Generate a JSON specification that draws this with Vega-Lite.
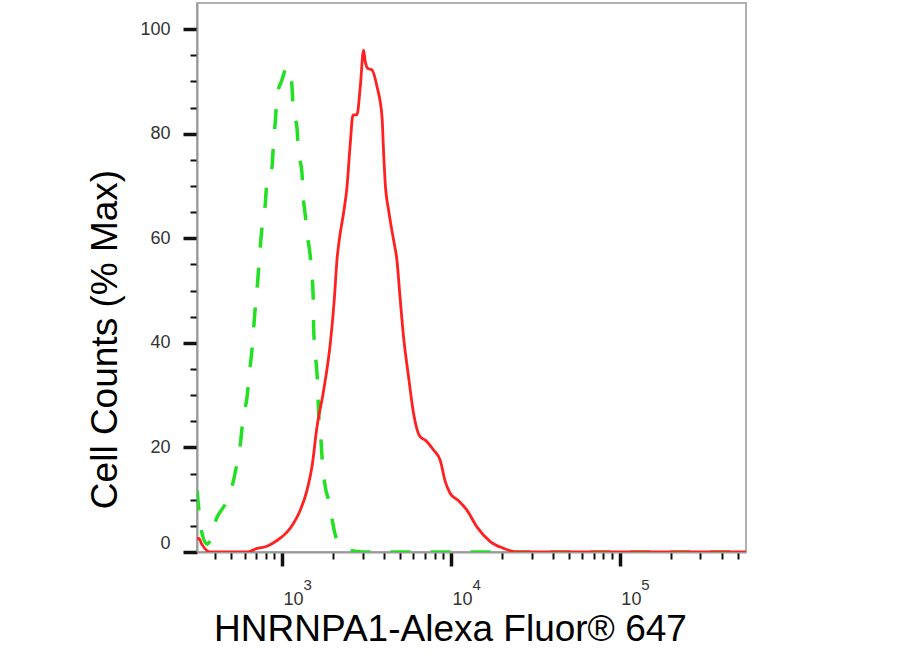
{
  "$schema": "https://vega.github.io/schema/vega-lite/v6.json",
  "autosize": {"type": "none"},
  "padding": {"left": 197, "top": 3, "right": 174, "bottom": 106},
  "width": 549,
  "height": 549,
  "background": "white",
  "config": {
    "view": {"stroke": "#b0b0b0", "strokeWidth": 2},
    "font": "Liberation Sans"
  },
  "datasets": {
    "hist": [
      {"series": "Isotype", "x": 314, "y": 11.8},
      {"series": "Isotype", "x": 336, "y": 3.6},
      {"series": "Isotype", "x": 361, "y": 1.5},
      {"series": "Isotype", "x": 412, "y": 6.6},
      {"series": "Isotype", "x": 473, "y": 9.9},
      {"series": "Isotype", "x": 513, "y": 13.3},
      {"series": "Isotype", "x": 542, "y": 17},
      {"series": "Isotype", "x": 567, "y": 20.7},
      {"series": "Isotype", "x": 590, "y": 25.9},
      {"series": "Isotype", "x": 621, "y": 29.6},
      {"series": "Isotype", "x": 641, "y": 34.2},
      {"series": "Isotype", "x": 664, "y": 38.6},
      {"series": "Isotype", "x": 695, "y": 46.8},
      {"series": "Isotype", "x": 711, "y": 50.1},
      {"series": "Isotype", "x": 744, "y": 58.4},
      {"series": "Isotype", "x": 762, "y": 62.2},
      {"series": "Isotype", "x": 797, "y": 66.7},
      {"series": "Isotype", "x": 815, "y": 71.1},
      {"series": "Isotype", "x": 873, "y": 73.6},
      {"series": "Isotype", "x": 892, "y": 78.8},
      {"series": "Isotype", "x": 913, "y": 82.3},
      {"series": "Isotype", "x": 934, "y": 87.1},
      {"series": "Isotype", "x": 1000, "y": 90.3},
      {"series": "Isotype", "x": 1071, "y": 92.8},
      {"series": "Isotype", "x": 1120, "y": 91.6},
      {"series": "Isotype", "x": 1146, "y": 89},
      {"series": "Isotype", "x": 1167, "y": 84.5},
      {"series": "Isotype", "x": 1227, "y": 81.1},
      {"series": "Isotype", "x": 1248, "y": 76.9},
      {"series": "Isotype", "x": 1313, "y": 72.5},
      {"series": "Isotype", "x": 1331, "y": 68.6},
      {"series": "Isotype", "x": 1374, "y": 64.4},
      {"series": "Isotype", "x": 1406, "y": 61},
      {"series": "Isotype", "x": 1470, "y": 56.6},
      {"series": "Isotype", "x": 1532, "y": 48.2},
      {"series": "Isotype", "x": 1539, "y": 43},
      {"series": "Isotype", "x": 1574, "y": 38},
      {"series": "Isotype", "x": 1624, "y": 32.3},
      {"series": "Isotype", "x": 1646, "y": 27.1},
      {"series": "Isotype", "x": 1702, "y": 21.4},
      {"series": "Isotype", "x": 1726, "y": 18.1},
      {"series": "Isotype", "x": 1805, "y": 12.4},
      {"series": "Isotype", "x": 1889, "y": 9.9},
      {"series": "Isotype", "x": 2039, "y": 4.1},
      {"series": "Isotype", "x": 2115, "y": 2.2},
      {"series": "Isotype", "x": 2425, "y": 0.5},
      {"series": "Isotype", "x": 3000, "y": 0},
      {"series": "Isotype", "x": 558000, "y": 0},
      {"series": "HNRNPA1", "x": 314, "y": 2.5},
      {"series": "HNRNPA1", "x": 322, "y": 2.6},
      {"series": "HNRNPA1", "x": 335, "y": 1.5},
      {"series": "HNRNPA1", "x": 377, "y": 0},
      {"series": "HNRNPA1", "x": 621, "y": 0},
      {"series": "HNRNPA1", "x": 711, "y": 0.7},
      {"series": "HNRNPA1", "x": 815, "y": 1.1},
      {"series": "HNRNPA1", "x": 934, "y": 2.2},
      {"series": "HNRNPA1", "x": 1071, "y": 3.8},
      {"series": "HNRNPA1", "x": 1171, "y": 5.5},
      {"series": "HNRNPA1", "x": 1283, "y": 8},
      {"series": "HNRNPA1", "x": 1406, "y": 11.8},
      {"series": "HNRNPA1", "x": 1505, "y": 16.3},
      {"series": "HNRNPA1", "x": 1611, "y": 23.9},
      {"series": "HNRNPA1", "x": 1764, "y": 30.9},
      {"series": "HNRNPA1", "x": 1932, "y": 39.9},
      {"series": "HNRNPA1", "x": 2039, "y": 48.2},
      {"series": "HNRNPA1", "x": 2115, "y": 55.8},
      {"series": "HNRNPA1", "x": 2213, "y": 61},
      {"series": "HNRNPA1", "x": 2314, "y": 64.8},
      {"series": "HNRNPA1", "x": 2425, "y": 69.8},
      {"series": "HNRNPA1", "x": 2537, "y": 78.2},
      {"series": "HNRNPA1", "x": 2632, "y": 83.6},
      {"series": "HNRNPA1", "x": 2778, "y": 83.6},
      {"series": "HNRNPA1", "x": 2906, "y": 88.9},
      {"series": "HNRNPA1", "x": 3041, "y": 96},
      {"series": "HNRNPA1", "x": 3111, "y": 93.8},
      {"series": "HNRNPA1", "x": 3212, "y": 92.5},
      {"series": "HNRNPA1", "x": 3412, "y": 92.2},
      {"series": "HNRNPA1", "x": 3651, "y": 89},
      {"series": "HNRNPA1", "x": 3908, "y": 83.3},
      {"series": "HNRNPA1", "x": 3990, "y": 76.8},
      {"series": "HNRNPA1", "x": 4084, "y": 70.5},
      {"series": "HNRNPA1", "x": 4275, "y": 65.4},
      {"series": "HNRNPA1", "x": 4575, "y": 59.7},
      {"series": "HNRNPA1", "x": 4791, "y": 55.8},
      {"series": "HNRNPA1", "x": 5013, "y": 48.2},
      {"series": "HNRNPA1", "x": 5245, "y": 41.1},
      {"series": "HNRNPA1", "x": 5614, "y": 33.5},
      {"series": "HNRNPA1", "x": 6010, "y": 26.5},
      {"series": "HNRNPA1", "x": 6580, "y": 22},
      {"series": "HNRNPA1", "x": 7050, "y": 21.4},
      {"series": "HNRNPA1", "x": 7890, "y": 19.5},
      {"series": "HNRNPA1", "x": 8650, "y": 17.5},
      {"series": "HNRNPA1", "x": 9250, "y": 13.5},
      {"series": "HNRNPA1", "x": 9900, "y": 11.2},
      {"series": "HNRNPA1", "x": 11100, "y": 9.8},
      {"series": "HNRNPA1", "x": 12440, "y": 8},
      {"series": "HNRNPA1", "x": 14250, "y": 4.8},
      {"series": "HNRNPA1", "x": 17100, "y": 2},
      {"series": "HNRNPA1", "x": 20500, "y": 0.7},
      {"series": "HNRNPA1", "x": 24600, "y": 0},
      {"series": "HNRNPA1", "x": 558000, "y": 0}
    ]
  },
  "data": {"name": "hist"},
  "resolve": {"axis": {"x": "independent", "y": "independent"}},
  "layer": [
    {
      "transform": [{"filter": "datum.series == 'Isotype'"}],
      "mark": {"type": "line", "color": "#22e022", "strokeWidth": 3.5, "strokeDash": [20, 20], "interpolate": "monotone", "clip": true},
      "encoding": {
        "x": {"field": "x", "type": "quantitative",
          "scale": {"type": "log", "domain": [314, 558000], "nice": false},
          "axis": {"orient": "bottom", "values": [400,500,600,700,800,900,2000,3000,4000,5000,6000,7000,8000,9000,20000,30000,40000,50000,60000,70000,80000,90000,200000,300000,400000,500000],
            "labels": false, "title": null, "domain": false, "grid": false, "tickSize": 7, "tickWidth": 2, "tickColor": "#111"}},
        "y": {"field": "y", "type": "quantitative",
          "scale": {"domain": [0, 105], "nice": false, "zero": true},
          "axis": {"orient": "left", "values": [5,10,15,25,30,35,45,50,55,65,70,75,85,90,95],
            "labels": false, "title": null, "domain": false, "grid": false, "tickSize": 7, "tickWidth": 2, "tickColor": "#111"}}
      }
    },
    {
      "transform": [{"filter": "datum.series == 'HNRNPA1'"}],
      "mark": {"type": "line", "color": "#ff2020", "strokeWidth": 2.8, "interpolate": "monotone", "clip": true},
      "encoding": {
        "x": {"field": "x", "type": "quantitative",
          "axis": {"orient": "bottom", "values": [1000, 10000, 100000], "labelExpr": "'10'",
            "labelFont": "Liberation Sans", "labelFontSize": 18, "labelColor": "#333", "labelAlign": "left", "labelOffset": 1,
            "labelBaseline": "alphabetic", "labelPadding": 38, "labelFlush": false,
            "domain": true, "domainColor": "#9a9a9a", "domainWidth": 2, "grid": false,
            "tickSize": 14, "tickWidth": 3.5, "tickColor": "#111",
            "title": "HNRNPA1-Alexa Fluor® 647", "titleFont": "Liberation Sans", "titleFontSize": 37, "titleFontWeight": "normal", "titleColor": "#000",
            "titleX": 253, "titleY": 88, "titleBaseline": "alphabetic", "titleAlign": "center"}},
        "y": {"field": "y", "type": "quantitative",
          "axis": {"orient": "left", "values": [0, 20, 40, 60, 80, 100],
            "labelFont": "Liberation Sans", "labelFontSize": 18, "labelColor": "#333", "labelPadding": 13, "labelFlush": true,
            "domain": true, "domainColor": "#9a9a9a", "domainWidth": 2, "grid": false,
            "tickSize": 14, "tickWidth": 3.5, "tickColor": "#111",
            "title": "Cell Counts (% Max)", "titleFont": "Liberation Sans", "titleFontSize": 37, "titleFontWeight": "normal", "titleColor": "#000",
            "titleAngle": 270, "titleX": -81, "titleY": 336, "titleBaseline": "alphabetic", "titleAlign": "center"}}
      }
    },
    {
      "transform": [{"filter": "datum.series == 'HNRNPA1'"}],
      "mark": {"type": "point", "opacity": 0},
      "encoding": {
        "x": {"field": "x", "type": "quantitative",
          "axis": {"orient": "bottom", "values": [1000, 10000, 100000], "labelExpr": "'' + round(log(datum.value) / LN10)",
            "labelFont": "Liberation Sans", "labelFontSize": 15, "labelColor": "#333", "labelAlign": "left", "labelOffset": 21,
            "labelBaseline": "alphabetic", "labelPadding": 37, "labelFlush": false,
            "ticks": false, "tickSize": 0, "domain": false, "grid": false, "title": null}},
        "y": {"field": "y", "type": "quantitative", "axis": null}
      }
    }
  ]
}
